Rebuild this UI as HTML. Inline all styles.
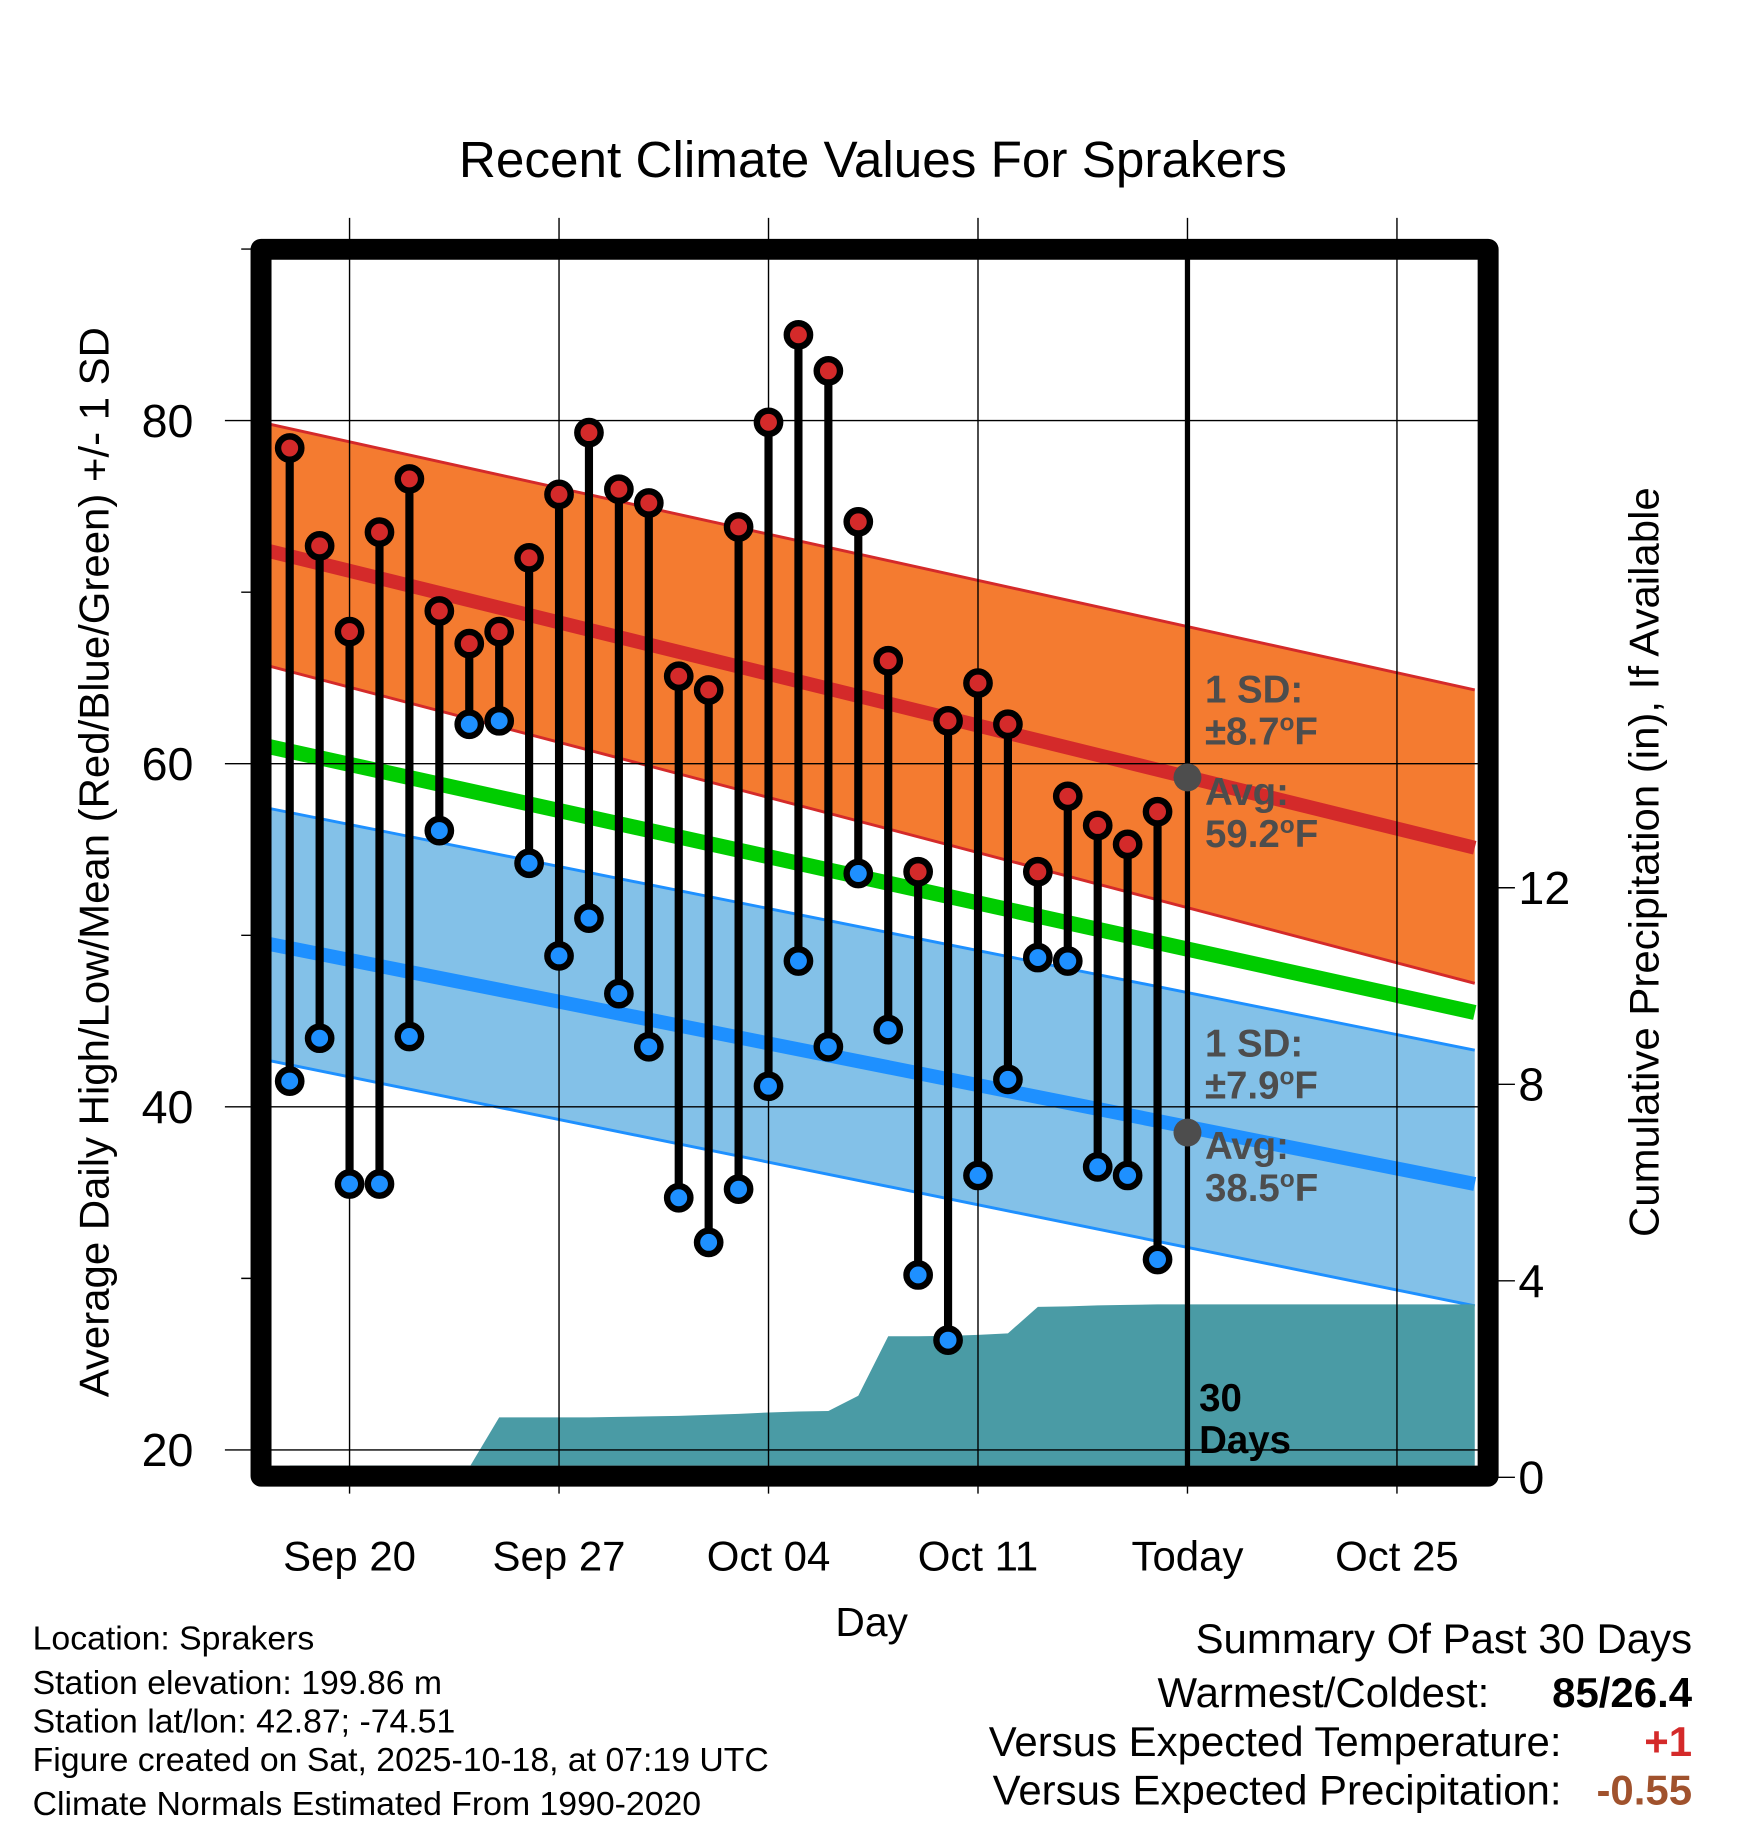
<!DOCTYPE html>
<html><head><meta charset="utf-8"><style>
html,body{margin:0;padding:0;background:#fff;}
svg{display:block;font-family:"Liberation Sans",Arial,sans-serif;}
</style></head><body>
<svg id="chart" width="1748" height="1828" viewBox="0 0 1500 1569" preserveAspectRatio="none" xmlns="http://www.w3.org/2000/svg">
<defs><clipPath id="plotclip"><rect x="232" y="222" width="1036" height="1039"/></clipPath></defs>
<text x="749" y="152" font-size="44" text-anchor="middle">Recent Climate Values For Sprakers</text>
<g id="plot" clip-path="url(#plotclip)"></g>
<g id="grid"></g>
<g id="marks"></g>
<rect x="224" y="214" width="1053" height="1053" fill="none" stroke="#000" stroke-width="18" stroke-linejoin="round"/>
<g id="axes"></g>
<text transform="translate(93,740) rotate(-90)" font-size="36" text-anchor="middle">Average Daily High/Low/Mean (Red/Blue/Green) +/- 1 SD</text>
<text transform="translate(1423,740) rotate(-90)" font-size="36" text-anchor="middle">Cumulative Precipitation (in), If Available</text>
<text x="748" y="1404" font-size="35" text-anchor="middle">Day</text>
<g font-size="29">
<text x="28" y="1416">Location: Sprakers</text>
<text x="28" y="1454">Station elevation: 199.86 m</text>
<text x="28" y="1487">Station lat/lon: 42.87; -74.51</text>
<text x="28" y="1520">Figure created on Sat, 2025-10-18, at 07:19 UTC</text>
<text x="28" y="1558">Climate Normals Estimated From 1990-2020</text>
</g>
<g font-size="36">
<text x="1452" y="1419" text-anchor="end">Summary Of Past 30 Days</text>
<text x="1278" y="1465" text-anchor="end">Warmest/Coldest:</text>
<text x="1452" y="1465" text-anchor="end" font-weight="bold">85/26.4</text>
<text x="1340" y="1507" text-anchor="end">Versus Expected Temperature:</text>
<text x="1452" y="1507" text-anchor="end" font-weight="bold" fill="#d42a2a">+1</text>
<text x="1340" y="1549" text-anchor="end">Versus Expected Precipitation:</text>
<text x="1452" y="1549" text-anchor="end" font-weight="bold" fill="#a0522d">-0.55</text>
</g>
</svg>
<script>
const highs=[78.4,72.7,67.7,73.5,76.6,68.9,67.0,67.7,72.0,75.7,79.3,76.0,75.2,65.1,64.3,73.8,79.9,85.0,82.9,74.1,66.0,53.7,62.5,64.7,62.3,53.7,58.1,56.4,55.3,57.2];
const lows=[41.5,44.0,35.5,35.5,44.1,56.1,62.3,62.5,54.2,48.8,51.0,46.6,43.5,34.7,32.1,35.2,41.2,48.5,43.5,53.6,44.5,30.2,26.4,36.0,41.6,48.7,48.5,36.5,36.0,31.1];
const precip=[0,0,0,0,0,0,0.2,1.22,1.22,1.22,1.22,1.23,1.24,1.25,1.27,1.29,1.32,1.34,1.35,1.66,2.87,2.87,2.88,2.9,2.93,3.47,3.48,3.5,3.51,3.52];
// normal curves: value at left plot edge and right plot edge
const highUpperEnds=[79.8,64.3];
const highMeanEnds=[72.4,55.1];
const highLowerEnds=[65.7,47.2];
const meanEnds=[61.0,45.5];
const lowUpperEnds=[57.4,43.3];
const lowMeanEnds=[49.5,35.5];
const lowLowerEnds=[42.7,28.4];
const normHighToday=59.2, normLowToday=38.5;
const xTickLabels=["Sep 20","Sep 27","Oct 04","Oct 11","Today","Oct 25"];
const xTickDays=[2,9,16,23,30,37];
const yTicks=[20,40,60,80];
const yMinorTicks=[30,50,70,90];
const pTicks=[0,4,8,12];
const todayIdx=30;

const NS="http://www.w3.org/2000/svg";
const X=i=>248.6+25.68*i;
const Y=t=>361+(80-t)*14.725;
const YP=p=>1268-p*42.17;
const xL=-0.7, xR=39.6;
function el(tag,attrs,parent){const e=document.createElementNS(NS,tag);for(const k in attrs)e.setAttribute(k,attrs[k]);parent.appendChild(e);return e;}
const plot=document.getElementById('plot'),grid=document.getElementById('grid'),marks=document.getElementById('marks'),axes=document.getElementById('axes');
function band(up,lo,fill,edge,name){
  const p=el('polygon',{points:`${X(xL)},${Y(up[0])} ${X(xR)},${Y(up[1])} ${X(xR)},${Y(lo[1])} ${X(xL)},${Y(lo[0])}`,fill:fill},plot);
  
  
  [up,lo].forEach(e=>{el('line',{x1:X(xL),y1:Y(e[0]),x2:X(xR),y2:Y(e[1]),stroke:edge,'stroke-width':2.5},plot);});
}
band(highUpperEnds,highLowerEnds,'#f47b30','#d42a2a','high-sd-band');
band(lowUpperEnds,lowLowerEnds,'#83c1e8','#1e90ff','low-sd-band');
function mline(e,c,w,name){const l=el('line',{x1:X(xL),y1:Y(e[0]),x2:X(xR),y2:Y(e[1]),stroke:c,'stroke-width':w},plot);
  
  }
mline(highMeanEnds,'#d42a2a',12,'normal-high-line');
mline(meanEnds,'#00cc00',13,'normal-mean-line');
mline(lowMeanEnds,'#1e90ff',12,'normal-low-line');
let pts=`${X(0)},${YP(0)} `;
precip.forEach((p,i)=>{pts+=`${X(i)},${YP(p)} `;});
pts+=`${X(xR)},${YP(precip[precip.length-1])} ${X(xR)},${YP(0)-10} ${X(0)},${YP(0)-10}`;
const pa=el('polygon',{points:pts,fill:'#4a9ba5'},plot);


xTickDays.forEach((d,k)=>{
  el('line',{x1:X(d),y1:187,x2:X(d),y2:1282,stroke:'#000','stroke-width':1.2},grid);
  const t=el('text',{x:X(d),y:1348,'font-size':36,'text-anchor':'middle'},axes);
  t.textContent=xTickLabels[k];
  
  
});
yTicks.forEach(v=>{
  el('line',{x1:193,y1:Y(v),x2:1270,y2:Y(v),stroke:'#000','stroke-width':1.2},grid);
  const t=el('text',{x:166,y:Y(v)+14,'font-size':40,'text-anchor':'end'},axes);
  t.textContent=v;
  
  
});
yMinorTicks.forEach(v=>{el('line',{x1:207,y1:Y(v),x2:222,y2:Y(v),stroke:'#000','stroke-width':1.2},axes);});
pTicks.forEach(v=>{
  el('line',{x1:1280,y1:YP(v),x2:1300,y2:YP(v),stroke:'#000','stroke-width':1.2},axes);
  const t=el('text',{x:1303,y:YP(v)+14,'font-size':40},axes);
  t.textContent=v;
  
  
});
const tl=el('line',{x1:X(todayIdx),y1:214,x2:X(todayIdx),y2:1262,stroke:'#000','stroke-width':4.5},marks);


highs.forEach((h,i)=>{
  const g=el('g',{},marks);
  
  
  el('line',{x1:X(i),y1:Y(h),x2:X(i),y2:Y(lows[i]),stroke:'#000','stroke-width':7},g);
  el('circle',{cx:X(i),cy:Y(h),r:10,fill:'#d42a2a',stroke:'#000','stroke-width':5.5},g);
  el('circle',{cx:X(i),cy:Y(lows[i]),r:10,fill:'#1e90ff',stroke:'#000','stroke-width':5.5},g);
});
[[normHighToday,'normal-high-today-dot'],[normLowToday,'normal-low-today-dot']].forEach(([v,n])=>{
  const c=el('circle',{cx:X(todayIdx),cy:Y(v),r:12,fill:'#4d4d4d'},marks);
  
  
});
function lbl(lines,x,y,color,name){
  const t=el('text',{x:x,y:y,'font-size':33,'font-weight':'bold',fill:color},marks);
  
  
  lines.forEach((s,k)=>{const ts=el('tspan',{x:x,dy:k?36:0},t);ts.innerHTML=s;});
}
lbl(['1 SD:','±8.7<tspan dy="-12" font-size="21">o</tspan><tspan dy="12">F</tspan>'],1034,603,'#4d4d4d','high-sd-label');
lbl(['Avg:','59.2<tspan dy="-12" font-size="21">o</tspan><tspan dy="12">F</tspan>'],1034,691,'#4d4d4d','high-avg-label');
lbl(['1 SD:','±7.9<tspan dy="-12" font-size="21">o</tspan><tspan dy="12">F</tspan>'],1034,907,'#4d4d4d','low-sd-label');
lbl(['Avg:','38.5<tspan dy="-12" font-size="21">o</tspan><tspan dy="12">F</tspan>'],1034,995,'#4d4d4d','low-avg-label');
lbl(['30','Days'],1029,1211,'#000','thirty-days-label');
</script>
</body></html>
